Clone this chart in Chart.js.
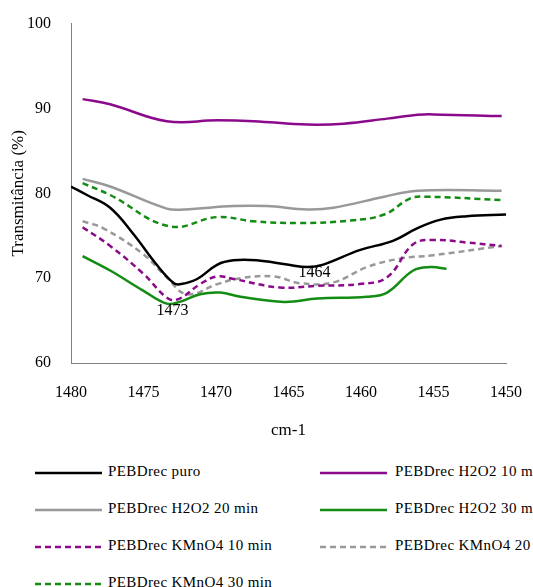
<!DOCTYPE html>
<html>
<head>
<meta charset="utf-8">
<script src="https://cdn.jsdelivr.net/npm/chart.js@4.4.1/dist/chart.umd.min.js"></script>
<style>
  body { margin: 0; background: #fff; width: 533px; height: 587px; overflow: hidden; position: relative; font-family: "Liberation Serif", "Times New Roman", serif; }
  #wrap { position: absolute; left: 0; top: 0; width: 533px; height: 445px; }
  #legend { position: absolute; left: 0; top: 463px; width: 533px; }
  .item { position: absolute; height: 20px; white-space: nowrap; font-size: 15px; letter-spacing: 0.4px; color: #000; }
  .item svg { position: absolute; left: 0; top: 7px; }
  .item span { position: absolute; top: 0px; }
</style>
</head>
<body>
<div id="wrap"><canvas id="c" width="533" height="445"></canvas></div>
<div id="legend"></div>
<script>
// wavenumber (cm-1) / transmitance (%)
const puroX = [1480, 1478.9, 1477.3, 1475.7, 1474.1, 1472.9, 1472.4, 1471.3, 1469.9, 1468.8, 1467.2, 1465.1, 1463.7, 1462.6, 1460.1, 1457.8, 1456.1, 1454.5, 1452.7, 1450];
const puroY = [80.8, 79.8, 78.3, 75.2, 71.6, 69.4, 69.3, 69.9, 71.6, 72.1, 72.1, 71.6, 71.3, 71.6, 73.3, 74.4, 75.9, 76.9, 77.3, 77.5];

const h10X = [1479.2, 1477.3, 1473.4, 1469.9, 1467.4, 1463.7, 1461.2, 1458.2, 1456.1, 1455.0, 1450.3];
const h10Y = [91.1, 90.5, 88.5, 88.6, 88.5, 88.1, 88.2, 88.8, 89.25, 89.3, 89.1];

const h20X = [1479.2, 1477.3, 1473.4, 1472.2, 1468.8, 1466.5, 1463.7, 1461.9, 1458.4, 1456.1, 1450.3];
const h20Y = [81.7, 80.8, 78.2, 78.1, 78.5, 78.5, 78.1, 78.3, 79.6, 80.3, 80.3];

const h30X = [1479.2, 1477.3, 1475.0, 1473.4, 1472.5, 1471.1, 1469.7, 1468.3, 1465.3, 1463.0, 1459.6, 1458.2, 1456.4, 1455.2, 1454.1];
const h30Y = [72.6, 70.9, 68.5, 67.0, 67.2, 68.1, 68.3, 67.8, 67.2, 67.6, 67.8, 68.3, 70.9, 71.3, 71.1];

const k10X = [1479.2, 1477.3, 1475.0, 1473.3, 1472.5, 1471.1, 1469.9, 1468.8, 1465.6, 1463.0, 1460.1, 1458.2, 1456.4, 1455.0, 1452.7, 1450.3];
const k10Y = [76.0, 73.8, 70.5, 67.6, 67.6, 69.3, 70.2, 69.9, 68.9, 69.1, 69.3, 70.1, 74.0, 74.5, 74.2, 73.8];

const k20X = [1479.2, 1477.8, 1475.0, 1473.4, 1472.0, 1469.9, 1468.3, 1466.0, 1464.2, 1461.9, 1459.6, 1457.3, 1455.0, 1450.3];
const k20Y = [76.7, 75.9, 72.8, 70.1, 68.1, 69.3, 70.0, 70.2, 69.4, 69.5, 71.3, 72.3, 72.7, 73.8];

const k30X = [1479.2, 1477.3, 1473.2, 1469.9, 1467.4, 1464.2, 1460.7, 1458.4, 1456.6, 1455.5, 1450.3];
const k30Y = [81.2, 79.8, 76.1, 77.2, 76.7, 76.5, 76.8, 77.5, 79.4, 79.6, 79.2];

const xTicks = [1480, 1475, 1470, 1465, 1460, 1455, 1450];
const yTicks = [60, 70, 80, 90, 100];

const notes = [
    { text: '1473', x: 1473.0, y: 66.2 },
    { text: '1464', x: 1463.2, y: 70.6 }
];

const pts = (xs, ys) => xs.map((x, i) => ({ x: x, y: ys[i] }));
const serif = '"Liberation Serif", "Times New Roman", serif';

const series = [
    { label: 'PEBDrec puro', data: pts(puroX, puroY), color: '#000000', dash: [] },
    { label: 'PEBDrec H2O2 10 min', data: pts(h10X, h10Y), color: '#8b0a8b', dash: [] },
    { label: 'PEBDrec H2O2 20 min', data: pts(h20X, h20Y), color: '#999999', dash: [] },
    { label: 'PEBDrec H2O2 30 min', data: pts(h30X, h30Y), color: '#128c12', dash: [] },
    { label: 'PEBDrec KMnO4 10 min', data: pts(k10X, k10Y), color: '#8b0a8b', dash: [6, 4] },
    { label: 'PEBDrec KMnO4 20 min', data: pts(k20X, k20Y), color: '#999999', dash: [6, 4] },
    { label: 'PEBDrec KMnO4 30 min', data: pts(k30X, k30Y), color: '#128c12', dash: [6, 4] }
];

const notesPlugin = {
    id: 'notes',
    afterDatasetsDraw(chart) {
        const ctx = chart.ctx;
        ctx.save();
        ctx.font = '16px ' + serif;
        ctx.fillStyle = '#000';
        ctx.textAlign = 'center';
        ctx.textBaseline = 'middle';
        notes.forEach(n => {
            ctx.fillText(n.text, chart.scales.x.getPixelForValue(n.x), chart.scales.y.getPixelForValue(n.y));
        });
        ctx.restore();
    }
};

const chart = new Chart(document.getElementById('c'), {
    type: 'line',
    data: {
        datasets: series.map(s => ({
            label: s.label,
            data: s.data,
            borderColor: s.color,
            backgroundColor: s.color,
            borderDash: s.dash,
            borderWidth: 2.5,
            pointRadius: 0,
            tension: 0.4,
            fill: false
        }))
    },
    options: {
        responsive: false,
        animation: false,
        layout: { padding: { top: 20, right: 27, left: 0, bottom: 0 } },
        plugins: { legend: { display: false }, tooltip: { enabled: false } },
        scales: {
            x: {
                type: 'linear',
                reverse: true,
                min: 1450,
                max: 1480,
                afterBuildTicks: s => { s.ticks = xTicks.map(v => ({ value: v })); },
                grid: { display: false, drawTicks: true, tickLength: 6, color: '#808080' },
                border: { color: '#808080', width: 1 },
                ticks: { font: { family: serif, size: 16 }, color: '#000', padding: 14, maxRotation: 0, callback: v => String(v) },
                title: { display: true, text: 'cm-1', font: { family: serif, size: 17 }, color: '#000', padding: { top: 2 } },
                afterFit: s => { s.height = 82; s.paddingRight = 0; s.paddingLeft = 0; }
            },
            y: {
                min: 60,
                max: 100,
                afterBuildTicks: s => { s.ticks = yTicks.map(v => ({ value: v })); },
                grid: { display: false, drawTicks: true, tickLength: 6, color: '#808080' },
                border: { color: '#808080', width: 1 },
                ticks: { font: { family: serif, size: 16 }, color: '#000', padding: 14, callback: v => String(v) },
                title: { display: true, text: 'Transmitância (%)', font: { family: serif, size: 17 }, color: '#000', padding: { top: 8, bottom: 0 } },
                afterFit: s => { s.width = 71; }
            }
        }
    },
    plugins: [notesPlugin]
});

// legend below the chart, two columns like the original figure
const legend = document.getElementById('legend');
series.forEach((s, i) => {
    const col = i % 2, row = Math.floor(i / 2);
    const div = document.createElement('div');
    div.className = 'item';
    div.style.left = (col ? 320 : 35) + 'px';
    div.style.top = (row * 37) + 'px';
    div.innerHTML =
        '<svg width="68" height="6"><line x1="0" y1="3" x2="67" y2="3" stroke="' + s.color +
        '" stroke-width="2.5" stroke-dasharray="' + (s.dash.length ? s.dash.join(' ') : 'none') + '"/></svg>' +
        '<span style="left:' + (col ? 75 : 73) + 'px">' + s.label + '</span>';
    legend.appendChild(div);
});
</script>
</body>
</html>
